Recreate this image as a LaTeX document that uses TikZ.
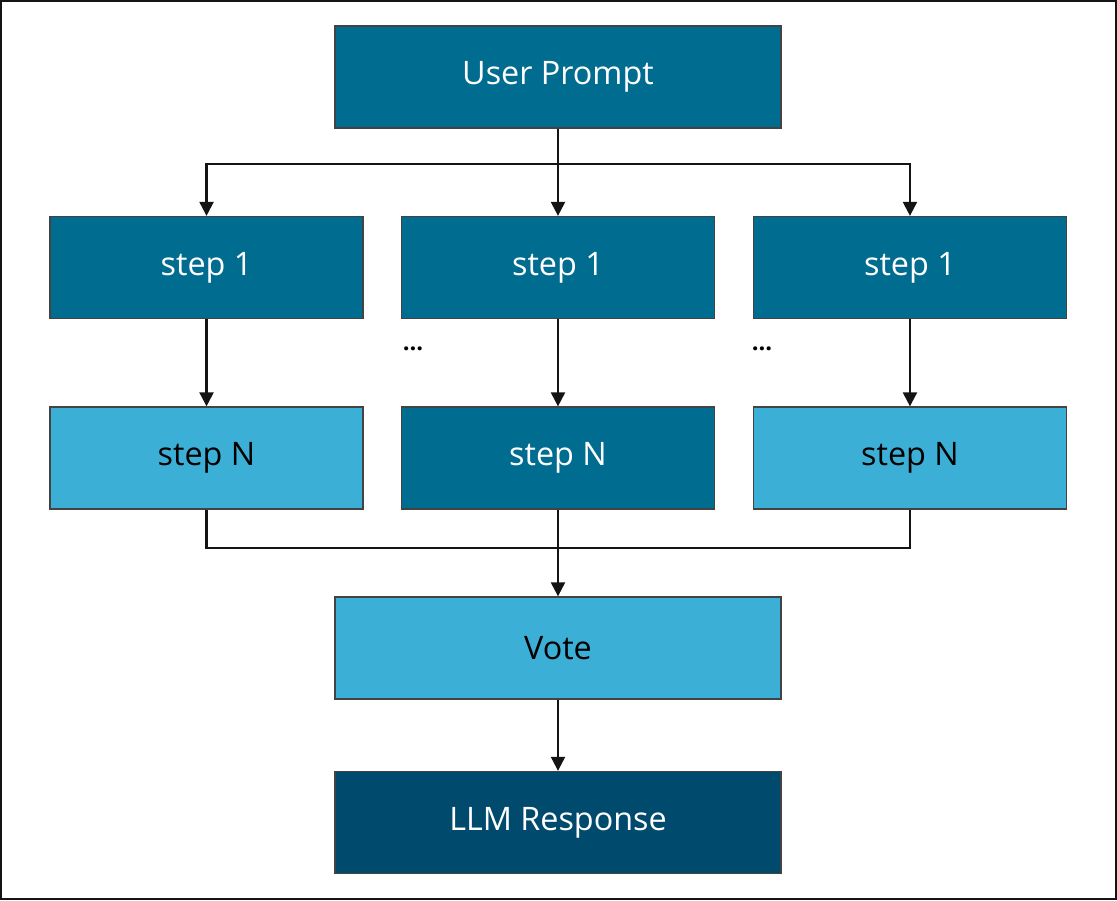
\documentclass[tikz,border=0pt]{standalone}
\usepackage{fontspec}
\setmainfont{Open Sans}
\definecolor{votedark}{RGB}{0,108,143}
\definecolor{votelight}{RGB}{60,175,214}
\definecolor{votedeep}{RGB}{0,74,110}
\definecolor{voteline}{RGB}{20,20,20}
\usetikzlibrary{arrows.meta,positioning,calc}

\begin{document}
\begin{tikzpicture}[x=0.025cm, y=-0.025cm,
    wide/.style={rectangle, draw=voteline!80, line width=0.9pt, minimum width=11.15cm,
                 minimum height=2.55cm, align=center, font=\fontsize{23}{27}\selectfont},
    stp/.style={rectangle, draw=voteline!80, line width=0.9pt, minimum width=7.825cm,
                minimum height=2.55cm, align=center, font=\fontsize{23}{27}\selectfont},
    dk/.style={fill=votedark, text=white},
    lt/.style={fill=votelight, text=black},
    ln/.style={draw=voteline, line width=1.5pt},
    arr/.style={ln, -{Triangle[width=10pt,length=10pt]}}
  ]
    % Frame
    \draw[voteline, line width=1.5pt] (1,1) rectangle (1116,899);

    % Prompt
    \node[wide, dk] (prompt) at (558,77) {User Prompt};

    % Row 1: first steps
    \node[stp, dk] (sOneA) at (206.5,267.5) {step 1};
    \node[stp, dk] (sOneB) at (558,267.5)   {step 1};
    \node[stp, dk] (sOneC) at (910,267.5)   {step 1};

    % Dots between rows
    \node[font=\fontsize{17}{20}\selectfont\bfseries] (dotsB) at (413,349) {...};
    \node[font=\fontsize{17}{20}\selectfont\bfseries] (dotsC) at (762,349) {...};

    % Row 2: last steps
    \node[stp, lt] (sNA) at (206.5,458) {step N};
    \node[stp, dk] (sNB) at (558,458)   {step N};
    \node[stp, lt] (sNC) at (910,458)   {step N};

    % Vote and response
    \node[wide, lt] (vote) at (558,648) {Vote};
    \node[wide, fill=votedeep, text=white] (resp) at (558,822.5) {LLM Response};

    % Split
    \coordinate (split) at (558,164);
    \draw[ln] (prompt.south) -- (split);
    \draw[arr] (split) -| (sOneA.north);
    \draw[arr] (split) -- (sOneB.north);
    \draw[arr] (split) -| (sOneC.north);

    % Chains
    \draw[arr] (sOneA.south) -- (sNA.north);
    \draw[arr] (sOneB.south) -- (sNB.north);
    \draw[arr] (sOneC.south) -- (sNC.north);

    % Merge
    \coordinate (merge) at (558,548);
    \draw[ln] (sNA.south) |- (merge);
    \draw[ln] (sNC.south) |- (merge);
    \draw[arr] (sNB.south) -- (vote.north);
    \draw[arr] (vote.south) -- (resp.north);
  \end{tikzpicture}
\end{document}
